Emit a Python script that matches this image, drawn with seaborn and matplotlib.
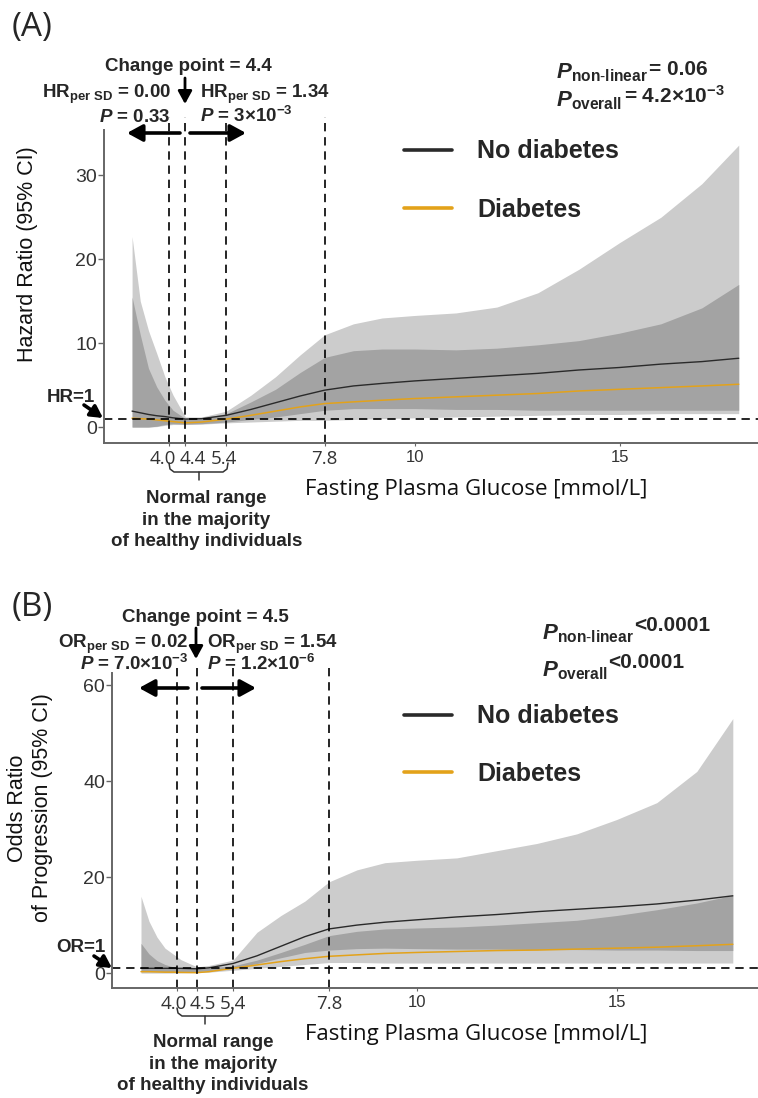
import matplotlib
matplotlib.use('Agg')
import matplotlib.pyplot as plt
import matplotlib.transforms as mtransforms
from matplotlib.lines import Line2D
from matplotlib.patches import FancyArrowPatch
import seaborn as sns

# ── Global style ──────────────────────────────────────────
sns.set_style('white')
plt.rcParams['font.family'] = ['Liberation Sans', 'DejaVu Sans']
plt.rcParams['mathtext.fontset'] = 'custom'
plt.rcParams['mathtext.rm'] = 'Liberation Sans'
plt.rcParams['mathtext.bf'] = 'Liberation Sans:bold'
plt.rcParams['mathtext.it'] = 'Liberation Sans:italic'
plt.rcParams['mathtext.bfit'] = 'Liberation Sans:italic:bold'

W, H = 758, 1098
BLACK = '#2a2a2a'
GOLD = '#E3A21A'
LIGHT = '#cccccc'
DARK = '#a3a3a3'
SPINE = '#666666'
OPEN = ['Open Sans', 'DejaVu Sans']

# ── Panel A : hazard ratio ──
a_x        = [3.1, 3.3, 3.5, 3.7, 3.9, 4.1, 4.4, 4.8, 5.4, 6.0, 6.6, 7.2, 7.8,
              8.5, 9.2, 10, 11, 12, 13, 14, 15, 16, 17, 17.9]
a_nodiab   = [1.9, 1.7, 1.5, 1.35, 1.25, 1.1, 0.95, 1.0, 1.4, 2.1, 2.9, 3.7, 4.4,
              4.9, 5.2, 5.5, 5.8, 6.1, 6.4, 6.8, 7.1, 7.5, 7.8, 8.2]
a_diab     = [1.05, 1.0, 0.95, 0.85, 0.75, 0.65, 0.5, 0.6, 0.95, 1.4, 1.9, 2.4, 2.8,
              3.0, 3.2, 3.4, 3.6, 3.8, 4.0, 4.3, 4.5, 4.7, 4.9, 5.1]
a_light_lo = [0, 0, 0, 0.05, 0.2, 0.3, 0.3, 0.35, 0.5, 0.6, 0.7, 0.8, 0.8,
              0.9, 1.0, 1.1, 1.2, 1.3, 1.4, 1.5, 1.5, 1.6, 1.6, 1.6]
a_light_hi = [22.7, 15, 11.5, 8.8, 6.0, 3.8, 1.2, 1.2, 1.9, 3.8, 6.0, 8.6, 11.0,
              12.3, 13.0, 13.3, 13.6, 14.3, 16, 18.8, 22.0, 25.0, 29.0, 33.6]
a_dark_lo  = [0, 0, 0, 0.1, 0.3, 0.4, 0.35, 0.4, 0.6, 0.9, 1.2, 1.6, 2.0,
              2.2, 2.2, 2.2, 2.1, 2.1, 2.0, 2.0, 2.0, 2.0, 2.0, 2.0]
a_dark_hi  = [15.5, 11, 7, 4.8, 3.2, 2.0, 1.0, 1.1, 1.6, 3.0, 4.5, 6.5, 8.3,
              9.1, 9.3, 9.3, 9.2, 9.4, 9.8, 10.3, 11.2, 12.3, 14.2, 17.0]
a_ticks    = [4.0, 4.4, 5.4, 7.8, 10, 15]
a_vlines   = [4.0, 4.4, 5.4, 7.8]
a_yticks   = [0, 10, 20, 30]

# ── Panel B : odds ratio of progression ──
b_x        = [3.1, 3.3, 3.5, 3.7, 3.9, 4.1, 4.5, 4.8, 5.4, 6.0, 6.6, 7.2, 7.8,
              8.5, 9.2, 10, 11, 12, 13, 14, 15, 16, 17, 17.9]
b_nodiab   = [1.0, 1.0, 1.0, 1.0, 1.0, 1.0, 0.9, 1.1, 2.0, 3.6, 5.6, 7.6, 9.2,
              10.0, 10.6, 11.1, 11.7, 12.2, 12.8, 13.3, 13.8, 14.4, 15.2, 16.1]
b_diab     = [0.3, 0.3, 0.25, 0.2, 0.2, 0.15, 0.1, 0.3, 1.0, 1.7, 2.4, 3.0, 3.5,
              3.8, 4.1, 4.3, 4.5, 4.7, 4.8, 5.0, 5.2, 5.4, 5.7, 6.0]
b_light_lo = [0, 0, 0, 0, 0, 0.05, 0.1, 0.2, 0.6, 1.0, 1.4, 1.8, 2.2,
              2.2, 2.1, 2.1, 2.1, 2.1, 2.1, 2.1, 2.1, 2.1, 2.1, 2.1]
b_light_hi = [16, 10.8, 7.5, 5.2, 4.0, 2.8, 1.3, 1.6, 2.7, 8.5, 12.0, 15.0, 19.0,
              21.5, 23.0, 23.5, 24.0, 25.5, 27.0, 29.0, 32.0, 35.5, 42.0, 53.0]
b_dark_lo  = [0.3, 0.3, 0.3, 0.3, 0.3, 0.3, 0.3, 0.5, 1.0, 2.0, 3.2, 4.3, 4.8,
              5.1, 5.2, 5.1, 5.0, 5.0, 4.9, 4.9, 4.8, 4.8, 4.7, 4.7]
b_dark_hi  = [6.2, 4.0, 2.6, 1.8, 1.3, 1.05, 1.0, 1.1, 1.5, 2.7, 4.3, 6.0, 7.8,
              8.7, 9.2, 9.4, 9.6, 10.0, 10.5, 11.0, 12.0, 13.2, 14.6, 16.2]
b_ticks    = [4.0, 4.5, 5.4, 7.8, 10, 15]
b_vlines   = [4.0, 4.5, 5.4, 7.8]
b_yticks   = [0, 20, 40, 60]

fig = plt.figure(figsize=(W / 100, H / 100), dpi=100)


def fx(x):
    return x / W


def fy(y):
    return 1 - y / H


def ftext(x, y, s, **kw):
    kw.setdefault('fontweight', 'bold')
    kw.setdefault('va', 'baseline')
    fig.text(fx(x), fy(y), s, **kw)


def farrow(x0, y0, x1, y1, lw=2.6, scale=17):
    fig.add_artist(FancyArrowPatch(
        (fx(x0), fy(y0)), (fx(x1), fy(y1)), transform=fig.transFigure,
        arrowstyle='-|>,head_length=0.55,head_width=0.3', mutation_scale=scale,
        lw=lw, color='black', shrinkA=0, shrinkB=0))


def fline(xs, ys, **kw):
    fig.add_artist(Line2D([fx(v) for v in xs], [fy(v) for v in ys],
                          transform=fig.transFigure, **kw))


def draw_panel(ax, x, nod, dia, llo, lhi, dlo, dhi, ticks, vlines, yticks,
               xlim, ylim, tick_dx, vtop):
    ax.fill_between(x, llo, lhi, color=LIGHT, lw=0)
    ax.fill_between(x, dlo, dhi, color=DARK, lw=0)
    sns.lineplot(x=x, y=nod, ax=ax, color=BLACK, lw=1.0)
    sns.lineplot(x=x, y=dia, ax=ax, color=GOLD, lw=1.1)
    ax.axhline(1, color='black', ls=(0, (5, 3.5)), lw=1.2)
    for v in vlines:
        ax.axvline(v, ymin=0, ymax=vtop, color='black', ls=(0, (5, 3.5)),
                   lw=1.2, clip_on=False)
    ax.set_xlim(*xlim)
    ax.set_ylim(*ylim)
    ax.set_xticks(ticks)
    ax.set_xticklabels([f'{t:g}' if t >= 10 else f'{t:.1f}' for t in ticks])
    ax.set_yticks(yticks)
    ax.set_xlabel('')
    ax.set_ylabel('')
    sns.despine(ax=ax)
    for side in ['left', 'bottom']:
        ax.spines[side].set_color(SPINE)
        ax.spines[side].set_linewidth(1.4)
    ax.tick_params(axis='y', left=True, length=4, width=1, color=SPINE,
                   pad=1, labelsize=14, labelcolor='#333333')
    ax.tick_params(axis='x', bottom=True, length=2, width=0.8, color=SPINE,
                   pad=3, labelcolor='#333333')
    for lab, t, dx in zip(ax.get_xticklabels(), ticks, tick_dx):
        if t >= 10:
            lab.set_fontsize(12)
            lab.set_family(['Liberation Sans', 'DejaVu Sans'])
        else:
            lab.set_fontsize(13.5)
            lab.set_family(OPEN)
        lab.set_transform(lab.get_transform() +
                          mtransforms.ScaledTranslation(dx / 100, 0,
                                                        fig.dpi_scale_trans))


# ── Panel A ──────────────────────────────────────────────
axA = fig.add_axes([fx(104), fy(443), fx(758) - fx(104), fy(130) - fy(443)])
draw_panel(axA, a_x, a_nodiab, a_diab, a_light_lo, a_light_hi, a_dark_lo,
           a_dark_hi, a_ticks, a_vlines, a_yticks, (2.415, 18.37), (-1.9, 35.4),
           [-6, 7, -2, 0, 0, 0], 1.042)

# ── Panel B ──────────────────────────────────────────────
axB = fig.add_axes([fx(112), fy(988), fx(758) - fx(112), fy(673) - fy(988)])
draw_panel(axB, b_x, b_nodiab, b_diab, b_light_lo, b_light_hi, b_dark_lo,
           b_dark_hi, b_ticks, b_vlines, b_yticks, (2.375, 18.53), (-3.1, 62.5),
           [-3, 6, 0, 0, 0, 0], 1.016)

# ── Panel labels and axis titles ─────────────────────────
ftext(12, 36, '(A)', fontsize=24, fontweight='normal', family=OPEN)
ftext(12, 616, '(B)', fontsize=24, fontweight='normal', family=OPEN)

fig.text(fx(27), fy(254), 'Hazard Ratio (95% CI)', rotation=90, fontsize=15.5,
         ha='center', va='center', color='#111111')
fig.text(fx(30), fy(808), 'Odds Ratio\nof Progression (95% CI)', rotation=90,
         fontsize=15.5, ha='center', va='center', linespacing=1.3,
         multialignment='center', color='#111111')

for base in [495, 1040]:
    ftext(476, base, 'Fasting Plasma Glucose [mmol/L]', fontsize=16,
          fontweight='normal', family=OPEN, ha='center', color='#111111')

# ── Change-point annotations ─────────────────────────────
ftext(188, 71, 'Change point = 4.4', fontsize=13.5, ha='center')
ftext(171, 98, r'HR$_{\mathbf{per\ SD}}$ = 0.00', fontsize=13.5, ha='right')
ftext(200, 98, r'HR$_{\mathbf{per\ SD}}$ = 1.34', fontsize=13.5, ha='left')
ftext(171, 122, r'$\mathbfit{P}$ = 0.33', fontsize=13.5, ha='right')
ftext(200, 122, r'$\mathbfit{P}$ = 3×10$^{\mathbf{-3}}$', fontsize=13.5, ha='left')
farrow(185, 78, 185, 104, lw=2.0, scale=14)
farrow(180, 133, 127, 133)
farrow(190, 133, 246, 133)

ftext(205, 622, 'Change point = 4.5', fontsize=13.5, ha='center')
ftext(188, 648, r'OR$_{\mathbf{per\ SD}}$ = 0.02', fontsize=13.5, ha='right')
ftext(207, 648, r'OR$_{\mathbf{per\ SD}}$ = 1.54', fontsize=13.5, ha='left')
ftext(188, 670, r'$\mathbfit{P}$ = 7.0×10$^{\mathbf{-3}}$', fontsize=13.5, ha='right')
ftext(207, 670, r'$\mathbfit{P}$ = 1.2×10$^{\mathbf{-6}}$', fontsize=13.5, ha='left')
farrow(196, 628, 196, 659, lw=2.0, scale=14)
farrow(188, 688, 139, 688)
farrow(202, 688, 256, 688)

# ── Reference-line arrows ────────────────────────────────
ftext(47, 402, 'HR=1', fontsize=13.5)
farrow(84, 405, 103, 418, lw=2.6, scale=13)
ftext(56, 952, 'OR=1', fontsize=13.5)
farrow(94, 956, 112, 968, lw=2.6, scale=13)

# ── P values ─────────────────────────────────────────────
ftext(556, 78, r'$\mathbfit{P}_{\mathbf{non\text{-}linear}}$', fontsize=16)
ftext(649, 75, '= 0.06', fontsize=15)
ftext(556, 106, r'$\mathbfit{P}_{\mathbf{overall}}$', fontsize=16)
ftext(624, 103, '= 4.2×10$^{\mathbf{-3}}$', fontsize=15)

ftext(542, 639, r'$\mathbfit{P}_{\mathbf{non\text{-}linear}}$', fontsize=16)
ftext(634, 631, '<0.0001', fontsize=15)
ftext(542, 676, r'$\mathbfit{P}_{\mathbf{overall}}$', fontsize=16)
ftext(608, 668, '<0.0001', fontsize=15)

# ── Legends ──────────────────────────────────────────────
for (ly, ty, col, lab) in [(150, 158, BLACK, 'No diabetes'), (208, 217, GOLD, 'Diabetes'),
                           (715, 723, BLACK, 'No diabetes'), (772, 781, GOLD, 'Diabetes')]:
    fline([404, 452], [ly, ly], color=col, lw=2.6)
    ftext(477, ty, lab, fontsize=18)

# ── Normal range braces ──────────────────────────────────
for (x0, x1, ytop, yh, ytick, bases) in [(169, 228, 463, 472, 480, [503, 525, 546]),
                                         (177, 233, 1008, 1016, 1024, [1047, 1069, 1090])]:
    xm = (x0 + x1) / 2
    fline([x0, x0 + 1, x0 + 5, x1 - 5, x1 - 1, x1],
          [ytop, yh - 3, yh, yh, yh - 3, ytop], color='#333333', lw=1.1)
    fline([xm, xm], [yh, ytick], color='#333333', lw=1.1)
    for s, b in zip(['Normal range', 'in the majority', 'of healthy individuals'], bases):
        ftext(xm + 8, b, s, fontsize=13.5, ha='center')

fig.savefig('out.png', dpi=100)
